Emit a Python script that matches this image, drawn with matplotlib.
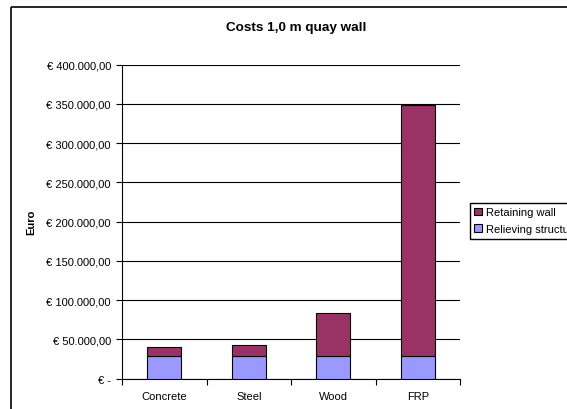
import matplotlib.pyplot as plt
from matplotlib.patches import Rectangle, Patch
from matplotlib.ticker import FuncFormatter, MultipleLocator

plt.rcParams['font.family'] = ['Liberation Sans', 'DejaVu Sans']

materials = ['Concrete', 'Steel', 'Wood', 'FRP']
relieving = [28500, 28500, 28500, 28500]
retaining = [12300, 14400, 54800, 320500]

fig = plt.figure(figsize=(5.67, 4.10), dpi=100)
ax = fig.add_axes([0.2152, 0.0739, 0.5961, 0.7659])

x = range(len(materials))
ax.bar(x, relieving, width=0.4, color='#9999ff', edgecolor='black', linewidth=0.8, zorder=3)
ax.bar(x, retaining, width=0.4, bottom=relieving, color='#993366', edgecolor='black', linewidth=0.8, zorder=3)

ax.set_xlim(-0.5, 3.5)
ax.set_ylim(0, 400000)
ax.set_xticks(list(x))
ax.set_xticklabels(materials, fontsize=8)
ax.set_xticks([-0.5, 0.5, 1.5, 2.5, 3.5], minor=True)
ax.tick_params(axis='x', which='major', length=0, pad=9)
ax.tick_params(axis='x', which='minor', length=4, width=0.8, direction='out')

def euro(v, pos):
    if v == 0:
        return '€ -'
    return '€ ' + f'{v:,.2f}'.replace(',', 'X').replace('.', ',').replace('X', '.')

ax.yaxis.set_major_locator(MultipleLocator(50000))
ax.yaxis.set_major_formatter(FuncFormatter(euro))
ax.tick_params(axis='y', length=4, width=0.8, labelsize=8, pad=4)

ax.grid(axis='y', color='black', linewidth=0.8, zorder=0)
ax.set_axisbelow(True)
ax.get_ygridlines()[-1].set_color('#c0c0c0')

for s in ['top', 'right']:
    ax.spines[s].set_visible(False)
ax.spines['left'].set_linewidth(0.8)
ax.spines['bottom'].set_linewidth(0.8)

ax.set_ylabel('Euro', fontsize=8, fontweight='bold', labelpad=7)
fig.text(296 / 567, 1 - 28 / 410, 'Costs 1,0 m quay wall', ha='center', va='center',
         fontsize=9.7, fontweight='bold')

handles = [Patch(facecolor='#993366', edgecolor='black', linewidth=0.8, label='Retaining wall'),
           Patch(facecolor='#9999ff', edgecolor='black', linewidth=0.8, label='Relieving structure')]
fig.legend(handles=handles, loc='upper left', bbox_to_anchor=(469.5 / 567, 1 - 204 / 410),
           fontsize=8, frameon=True, fancybox=False, edgecolor='black', framealpha=1,
           handlelength=0.7, handleheight=0.7, handletextpad=0.35, borderpad=0.4,
           labelspacing=0.6, borderaxespad=0)

fig.patches.append(Rectangle((11 / 567, 1 - 8 / 410), 1.2, -1.2, transform=fig.transFigure,
                             fill=False, edgecolor='black', linewidth=1.2, clip_on=False))

fig.savefig('out.png', dpi=100)
